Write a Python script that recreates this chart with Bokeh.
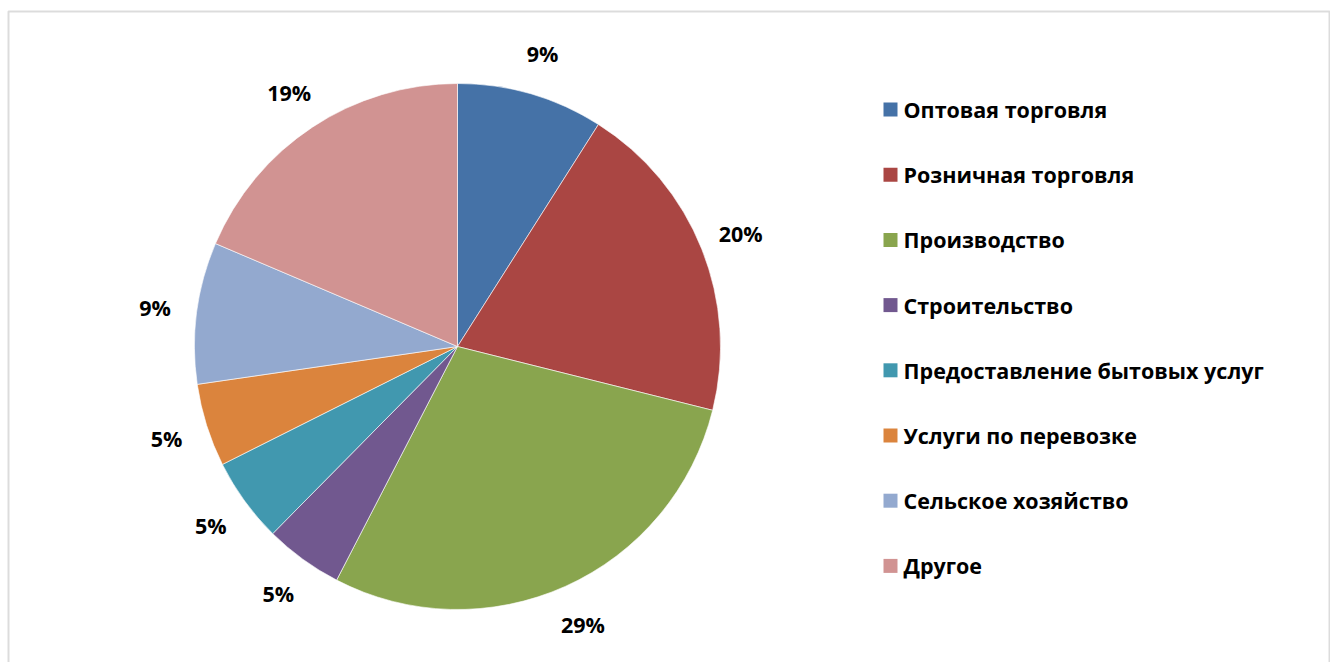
import math
from bokeh.plotting import figure
from bokeh.models import Range1d, BoxAnnotation, ColumnDataSource
from bokeh.core.properties import value
from bokeh.embed import file_html
from bokeh.resources import INLINE

# ---- data ----
categories = ["Оптовая торговля", "Розничная торговля", "Производство", "Строительство",
              "Предоставление бытовых услуг", "Услуги по перевозке", "Сельское хозяйство", "Другое"]
shares = [9.0, 19.9, 28.7, 4.8, 5.2, 5.1, 8.7, 18.6]
labels = ["9%", "20%", "29%", "5%", "5%", "5%", "9%", "19%"]
colors = ["#4572A7", "#AA4643", "#89A54E", "#71588F", "#4198AF", "#DB843D", "#93A9CF", "#D19392"]

# ---- layout (pixel-like data units: x = page x, y = 670 - page y) ----
W, H = 1330, 662
CX, CY, R = 457, 670 - 346, 263
LABEL_R = 305
FONT = "Open Sans"
FSIZE = "21.5px"

total = sum(shares)
starts, ends, mids = [], [], []
acc = 0.0
for s in shares:
    a0 = acc / total
    acc += s
    a1 = acc / total
    starts.append(math.pi / 2 - 2 * math.pi * a0)
    ends.append(math.pi / 2 - 2 * math.pi * a1)
    mids.append(2 * math.pi * (a0 + a1) / 2)

src = ColumnDataSource(dict(
    cat=categories, color=colors, start=starts, end=ends,
    lx=[CX + LABEL_R * math.sin(m) for m in mids],
    ly=[CY + LABEL_R * math.cos(m) for m in mids],
    lab=labels,
))

p = figure(width=W, height=H, output_backend="svg", toolbar_location=None,
           x_range=Range1d(0, W), y_range=Range1d(670 - H, 670), min_border=0,
           background_fill_color="white", border_fill_color="white")
p.axis.visible = False
p.grid.visible = False
p.outline_line_color = None

p.wedge(x=CX, y=CY, radius=R, start_angle="start", end_angle="end", direction="clock",
        fill_color="color", line_color="white", line_width=0.6, source=src)

p.text(x="lx", y="ly", text="lab", source=src, text_font=value(FONT), text_font_style="bold",
       text_font_size=FSIZE, text_color="black", text_align="center", text_baseline="middle")

# legend (manual, from categories)
leg = ColumnDataSource(dict(
    x=[890] * len(categories),
    tx=[903] * len(categories),
    y=[670 - (109 + 65.2 * i) for i in range(len(categories))],
    cat=categories, color=colors,
))
p.scatter(x="x", y="y", marker="square", size=14, fill_color="color", line_color=None, source=leg)
p.text(x="tx", y="y", text="cat", source=leg, text_font=value(FONT), text_font_style="bold",
       text_font_size=FSIZE, text_color="black", text_align="left", text_baseline="middle")

p.add_layout(BoxAnnotation(left=8, right=1329, top=659, bottom=-20, fill_alpha=0,
                           line_color="#8c8c8c", line_width=2))

open("out.html", "w").write(file_html(p, INLINE))
